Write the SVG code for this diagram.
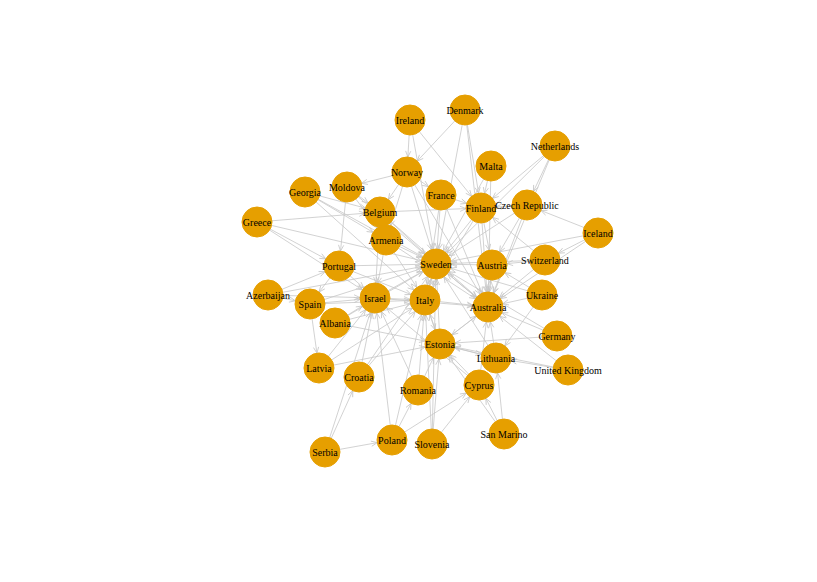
<svg xmlns="http://www.w3.org/2000/svg" width="817" height="582" viewBox="0 0 817 582">
<defs>
<style>
.e{stroke:#c6c6c6;stroke-width:0.8;fill:none;marker-end:url(#ah)}
.n circle{fill:#E69F00;stroke:#E69F00;stroke-width:1}
.n text{font-family:"Liberation Serif","Times New Roman",serif;font-size:10px;fill:#000;text-anchor:middle}
</style>
<marker id="ah" markerUnits="userSpaceOnUse" viewBox="-22 -4 23 8" refX="0" refY="0" markerWidth="23" markerHeight="8" orient="auto" overflow="visible">
<path d="M-21,-2.6 L-15,0 L-21,2.6" fill="none" stroke="#c6c6c6" stroke-width="0.8"/>
</marker>
</defs>
<rect width="817" height="582" fill="#fff"/>
<g id="edges">
<line class="e" x1="410" y1="120" x2="407" y2="172"/>
<line class="e" x1="410" y1="120" x2="436" y2="264"/>
<line class="e" x1="410" y1="120" x2="481" y2="208"/>
<line class="e" x1="465" y1="110" x2="407" y2="172"/>
<line class="e" x1="465" y1="110" x2="481" y2="208"/>
<line class="e" x1="465" y1="110" x2="488" y2="307"/>
<line class="e" x1="465" y1="110" x2="436" y2="264"/>
<line class="e" x1="555" y1="146" x2="481" y2="208"/>
<line class="e" x1="555" y1="146" x2="527" y2="205"/>
<line class="e" x1="555" y1="146" x2="436" y2="264"/>
<line class="e" x1="555" y1="146" x2="488" y2="307"/>
<line class="e" x1="491" y1="166" x2="481" y2="208"/>
<line class="e" x1="491" y1="166" x2="488" y2="307"/>
<line class="e" x1="491" y1="166" x2="436" y2="264"/>
<line class="e" x1="407" y1="172" x2="347" y2="187"/>
<line class="e" x1="407" y1="172" x2="380" y2="212"/>
<line class="e" x1="407" y1="172" x2="441" y2="195"/>
<line class="e" x1="407" y1="172" x2="436" y2="264"/>
<line class="e" x1="407" y1="172" x2="488" y2="307"/>
<line class="e" x1="407" y1="172" x2="386" y2="240"/>
<line class="e" x1="305" y1="192" x2="380" y2="212"/>
<line class="e" x1="305" y1="192" x2="386" y2="240"/>
<line class="e" x1="305" y1="192" x2="436" y2="264"/>
<line class="e" x1="305" y1="192" x2="425" y2="300"/>
<line class="e" x1="347" y1="187" x2="339" y2="266"/>
<line class="e" x1="347" y1="187" x2="380" y2="212"/>
<line class="e" x1="347" y1="187" x2="386" y2="240"/>
<line class="e" x1="347" y1="187" x2="436" y2="264"/>
<line class="e" x1="257" y1="222" x2="380" y2="212"/>
<line class="e" x1="257" y1="222" x2="339" y2="266"/>
<line class="e" x1="257" y1="222" x2="375" y2="298"/>
<line class="e" x1="257" y1="222" x2="436" y2="264"/>
<line class="e" x1="441" y1="195" x2="481" y2="208"/>
<line class="e" x1="441" y1="195" x2="436" y2="264"/>
<line class="e" x1="441" y1="195" x2="425" y2="300"/>
<line class="e" x1="441" y1="195" x2="488" y2="307"/>
<line class="e" x1="481" y1="208" x2="436" y2="264"/>
<line class="e" x1="481" y1="208" x2="488" y2="307"/>
<line class="e" x1="481" y1="208" x2="492" y2="265"/>
<line class="e" x1="481" y1="208" x2="425" y2="300"/>
<line class="e" x1="527" y1="205" x2="481" y2="208"/>
<line class="e" x1="527" y1="205" x2="488" y2="307"/>
<line class="e" x1="527" y1="205" x2="436" y2="264"/>
<line class="e" x1="527" y1="205" x2="492" y2="265"/>
<line class="e" x1="598" y1="233" x2="527" y2="205"/>
<line class="e" x1="598" y1="233" x2="545" y2="260"/>
<line class="e" x1="598" y1="233" x2="488" y2="307"/>
<line class="e" x1="598" y1="233" x2="436" y2="264"/>
<line class="e" x1="545" y1="260" x2="492" y2="265"/>
<line class="e" x1="545" y1="260" x2="488" y2="307"/>
<line class="e" x1="545" y1="260" x2="436" y2="264"/>
<line class="e" x1="545" y1="260" x2="481" y2="208"/>
<line class="e" x1="542" y1="295" x2="488" y2="307"/>
<line class="e" x1="542" y1="295" x2="436" y2="264"/>
<line class="e" x1="542" y1="295" x2="492" y2="265"/>
<line class="e" x1="542" y1="295" x2="496" y2="358"/>
<line class="e" x1="557" y1="336" x2="488" y2="307"/>
<line class="e" x1="557" y1="336" x2="440" y2="344"/>
<line class="e" x1="557" y1="336" x2="436" y2="264"/>
<line class="e" x1="568" y1="370" x2="488" y2="307"/>
<line class="e" x1="568" y1="370" x2="496" y2="358"/>
<line class="e" x1="568" y1="370" x2="440" y2="344"/>
<line class="e" x1="380" y1="212" x2="436" y2="264"/>
<line class="e" x1="380" y1="212" x2="375" y2="298"/>
<line class="e" x1="380" y1="212" x2="488" y2="307"/>
<line class="e" x1="380" y1="212" x2="481" y2="208"/>
<line class="e" x1="386" y1="240" x2="436" y2="264"/>
<line class="e" x1="386" y1="240" x2="375" y2="298"/>
<line class="e" x1="386" y1="240" x2="425" y2="300"/>
<line class="e" x1="386" y1="240" x2="488" y2="307"/>
<line class="e" x1="339" y1="266" x2="310" y2="304"/>
<line class="e" x1="339" y1="266" x2="375" y2="298"/>
<line class="e" x1="339" y1="266" x2="436" y2="264"/>
<line class="e" x1="339" y1="266" x2="425" y2="300"/>
<line class="e" x1="268" y1="295" x2="310" y2="304"/>
<line class="e" x1="268" y1="295" x2="375" y2="298"/>
<line class="e" x1="268" y1="295" x2="436" y2="264"/>
<line class="e" x1="268" y1="295" x2="339" y2="266"/>
<line class="e" x1="310" y1="304" x2="375" y2="298"/>
<line class="e" x1="310" y1="304" x2="319" y2="368"/>
<line class="e" x1="310" y1="304" x2="425" y2="300"/>
<line class="e" x1="310" y1="304" x2="436" y2="264"/>
<line class="e" x1="335" y1="323" x2="375" y2="298"/>
<line class="e" x1="335" y1="323" x2="425" y2="300"/>
<line class="e" x1="335" y1="323" x2="440" y2="344"/>
<line class="e" x1="335" y1="323" x2="436" y2="264"/>
<line class="e" x1="375" y1="298" x2="436" y2="264"/>
<line class="e" x1="375" y1="298" x2="488" y2="307"/>
<line class="e" x1="375" y1="298" x2="425" y2="300"/>
<line class="e" x1="425" y1="300" x2="436" y2="264"/>
<line class="e" x1="425" y1="300" x2="488" y2="307"/>
<line class="e" x1="425" y1="300" x2="440" y2="344"/>
<line class="e" x1="436" y1="264" x2="488" y2="307"/>
<line class="e" x1="436" y1="264" x2="425" y2="300"/>
<line class="e" x1="492" y1="265" x2="436" y2="264"/>
<line class="e" x1="492" y1="265" x2="488" y2="307"/>
<line class="e" x1="488" y1="307" x2="436" y2="264"/>
<line class="e" x1="488" y1="307" x2="492" y2="265"/>
<line class="e" x1="488" y1="307" x2="440" y2="344"/>
<line class="e" x1="440" y1="344" x2="488" y2="307"/>
<line class="e" x1="440" y1="344" x2="425" y2="300"/>
<line class="e" x1="440" y1="344" x2="436" y2="264"/>
<line class="e" x1="440" y1="344" x2="496" y2="358"/>
<line class="e" x1="496" y1="358" x2="488" y2="307"/>
<line class="e" x1="496" y1="358" x2="440" y2="344"/>
<line class="e" x1="496" y1="358" x2="436" y2="264"/>
<line class="e" x1="319" y1="368" x2="375" y2="298"/>
<line class="e" x1="319" y1="368" x2="440" y2="344"/>
<line class="e" x1="319" y1="368" x2="425" y2="300"/>
<line class="e" x1="359" y1="377" x2="375" y2="298"/>
<line class="e" x1="359" y1="377" x2="425" y2="300"/>
<line class="e" x1="359" y1="377" x2="436" y2="264"/>
<line class="e" x1="325" y1="452" x2="359" y2="377"/>
<line class="e" x1="325" y1="452" x2="392" y2="440"/>
<line class="e" x1="325" y1="452" x2="375" y2="298"/>
<line class="e" x1="392" y1="440" x2="375" y2="298"/>
<line class="e" x1="392" y1="440" x2="418" y2="390"/>
<line class="e" x1="392" y1="440" x2="479" y2="385"/>
<line class="e" x1="392" y1="440" x2="425" y2="300"/>
<line class="e" x1="432" y1="444" x2="440" y2="344"/>
<line class="e" x1="432" y1="444" x2="479" y2="385"/>
<line class="e" x1="432" y1="444" x2="425" y2="300"/>
<line class="e" x1="432" y1="444" x2="436" y2="264"/>
<line class="e" x1="418" y1="390" x2="440" y2="344"/>
<line class="e" x1="418" y1="390" x2="425" y2="300"/>
<line class="e" x1="418" y1="390" x2="375" y2="298"/>
<line class="e" x1="479" y1="385" x2="440" y2="344"/>
<line class="e" x1="479" y1="385" x2="488" y2="307"/>
<line class="e" x1="479" y1="385" x2="375" y2="298"/>
<line class="e" x1="504" y1="434" x2="496" y2="358"/>
<line class="e" x1="504" y1="434" x2="479" y2="385"/>
<line class="e" x1="504" y1="434" x2="440" y2="344"/>
</g>
<g id="n-ireland" class="n"><circle cx="410" cy="120" r="15"/><text x="410" y="123.5">Ireland</text></g>
<g id="n-denmark" class="n"><circle cx="465" cy="110" r="15"/><text x="465" y="113.5">Denmark</text></g>
<g id="n-netherlands" class="n"><circle cx="555" cy="146" r="15"/><text x="555" y="149.5">Netherlands</text></g>
<g id="n-malta" class="n"><circle cx="491" cy="166" r="15"/><text x="491" y="169.5">Malta</text></g>
<g id="n-norway" class="n"><circle cx="407" cy="172" r="15"/><text x="407" y="175.5">Norway</text></g>
<g id="n-moldova" class="n"><circle cx="347" cy="187" r="15"/><text x="347" y="190.5">Moldova</text></g>
<g id="n-georgia" class="n"><circle cx="305" cy="192" r="15"/><text x="305" y="195.5">Georgia</text></g>
<g id="n-france" class="n"><circle cx="441" cy="195" r="15"/><text x="441" y="198.5">France</text></g>
<g id="n-finland" class="n"><circle cx="481" cy="208" r="15"/><text x="481" y="211.5">Finland</text></g>
<g id="n-czech" class="n"><circle cx="527" cy="205" r="15"/><text x="527" y="208.5">Czech Republic</text></g>
<g id="n-belgium" class="n"><circle cx="380" cy="212" r="15"/><text x="380" y="215.5">Belgium</text></g>
<g id="n-greece" class="n"><circle cx="257" cy="222" r="15"/><text x="257" y="225.5">Greece</text></g>
<g id="n-iceland" class="n"><circle cx="598" cy="233" r="15"/><text x="598" y="236.5">Iceland</text></g>
<g id="n-armenia" class="n"><circle cx="386" cy="240" r="15"/><text x="386" y="243.5">Armenia</text></g>
<g id="n-switzerland" class="n"><circle cx="545" cy="260" r="15"/><text x="545" y="263.5">Switzerland</text></g>
<g id="n-portugal" class="n"><circle cx="339" cy="266" r="15"/><text x="339" y="269.5">Portugal</text></g>
<g id="n-sweden" class="n"><circle cx="436" cy="264" r="15"/><text x="436" y="267.5">Sweden</text></g>
<g id="n-austria" class="n"><circle cx="492" cy="265" r="15"/><text x="492" y="268.5">Austria</text></g>
<g id="n-azerbaijan" class="n"><circle cx="268" cy="295" r="15"/><text x="268" y="298.5">Azerbaijan</text></g>
<g id="n-spain" class="n"><circle cx="310" cy="304" r="15"/><text x="310" y="307.5">Spain</text></g>
<g id="n-israel" class="n"><circle cx="375" cy="298" r="15"/><text x="375" y="301.5">Israel</text></g>
<g id="n-italy" class="n"><circle cx="425" cy="300" r="15"/><text x="425" y="303.5">Italy</text></g>
<g id="n-australia" class="n"><circle cx="488" cy="307" r="15"/><text x="488" y="310.5">Australia</text></g>
<g id="n-ukraine" class="n"><circle cx="542" cy="295" r="15"/><text x="542" y="298.5">Ukraine</text></g>
<g id="n-albania" class="n"><circle cx="335" cy="323" r="15"/><text x="335" y="326.5">Albania</text></g>
<g id="n-germany" class="n"><circle cx="557" cy="336" r="15"/><text x="557" y="339.5">Germany</text></g>
<g id="n-estonia" class="n"><circle cx="440" cy="344" r="15"/><text x="440" y="347.5">Estonia</text></g>
<g id="n-lithuania" class="n"><circle cx="496" cy="358" r="15"/><text x="496" y="361.5">Lithuania</text></g>
<g id="n-uk" class="n"><circle cx="568" cy="370" r="15"/><text x="568" y="373.5">United Kingdom</text></g>
<g id="n-latvia" class="n"><circle cx="319" cy="368" r="15"/><text x="319" y="371.5">Latvia</text></g>
<g id="n-croatia" class="n"><circle cx="359" cy="377" r="15"/><text x="359" y="380.5">Croatia</text></g>
<g id="n-romania" class="n"><circle cx="418" cy="390" r="15"/><text x="418" y="393.5">Romania</text></g>
<g id="n-cyprus" class="n"><circle cx="479" cy="385" r="15"/><text x="479" y="388.5">Cyprus</text></g>
<g id="n-sanmarino" class="n"><circle cx="504" cy="434" r="15"/><text x="504" y="437.5">San Marino</text></g>
<g id="n-poland" class="n"><circle cx="392" cy="440" r="15"/><text x="392" y="443.5">Poland</text></g>
<g id="n-slovenia" class="n"><circle cx="432" cy="444" r="15"/><text x="432" y="447.5">Slovenia</text></g>
<g id="n-serbia" class="n"><circle cx="325" cy="452" r="15"/><text x="325" y="455.5">Serbia</text></g>
</svg>
